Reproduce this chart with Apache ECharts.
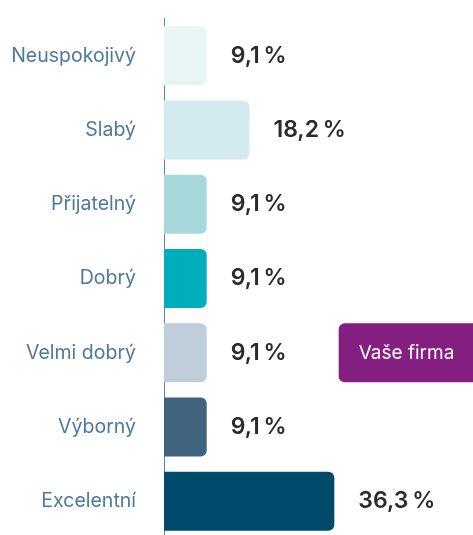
<!DOCTYPE html>
<html lang="cs">
<head>
  <meta charset="utf-8">
  <title>Hodnocení</title>
  <script src="https://cdn.jsdelivr.net/npm/echarts@6/dist/echarts.min.js"></script>
  <style>
    html, body { margin: 0; padding: 0; background: #fff; }
    #chart { width: 473px; height: 535px; }
  </style>
</head>
<body>
<div id="chart"></div>
<script>
  // data
  const categories = ['Neuspokojivý', 'Slabý', 'Přijatelný', 'Dobrý', 'Velmi dobrý', 'Výborný', 'Excelentní'];
  const values = [9.1, 18.2, 9.1, 9.1, 9.1, 9.1, 36.3];
  const barColors = ['#e8f5f5', '#d3ebee', '#a6d8dc', '#00adbb', '#c0cedb', '#41647e', '#004b6b'];
  const companyCategory = 'Velmi dobrý';
  const companyLabel = 'Vaše firma';

  function fmt(v) {
    return v.toFixed(1).replace('.', ',') + '\u202f%';
  }

  let chart = echarts.init(document.getElementById('chart'));
  let option = {
    animation: false,
    grid: {
      left: 164, width: 305, top: 18.5, height: 520,
      containLabel: false,
      outerBoundsMode: 'none'
    },
    xAxis: {
      type: 'value',
      min: 0,
      max: 65,
      show: false
    },
    yAxis: {
      type: 'category',
      inverse: true,
      data: categories,
      axisLine: { show: true, lineStyle: { color: '#5b86a8', width: 1 } },
      axisTick: { show: false },
      axisLabel: {
        margin: 28,
        fontFamily: 'Inter',
        fontSize: 19.5,
        color: '#4d7a9c'
      }
    },
    series: [{
      type: 'bar',
      barWidth: 59,
      data: values.map((v, i) => ({
        value: v,
        itemStyle: { color: barColors[i], borderRadius: [0, 6, 6, 0] }
      })),
      label: {
        show: true,
        position: 'right',
        distance: 24,
        fontFamily: 'Inter',
        fontSize: 23,
        fontWeight: 600,
        color: '#2b2b2b',
        formatter: function (p) {
          let s = '{v|' + fmt(p.value) + '}';
          if (categories[p.dataIndex] === companyCategory) {
            s += '{gap|}{badge|' + companyLabel + '}';
          }
          return s;
        },
        rich: {
          v: { fontFamily: 'Inter', fontSize: 23, fontWeight: 600, color: '#2b2b2b' },
          gap: { width: 52 },
          badge: {
            fontFamily: 'Inter',
            fontSize: 19,
            fontWeight: 'normal',
            color: '#ffffff',
            backgroundColor: '#851f82',
            borderRadius: 6,
            height: 59,
            lineHeight: 59,
            width: 120,
            padding: [0, 0, 0, 20],
            align: 'left'
          }
        }
      }
    }]
  };
  chart.setOption(option);
</script>
</body>
</html>
